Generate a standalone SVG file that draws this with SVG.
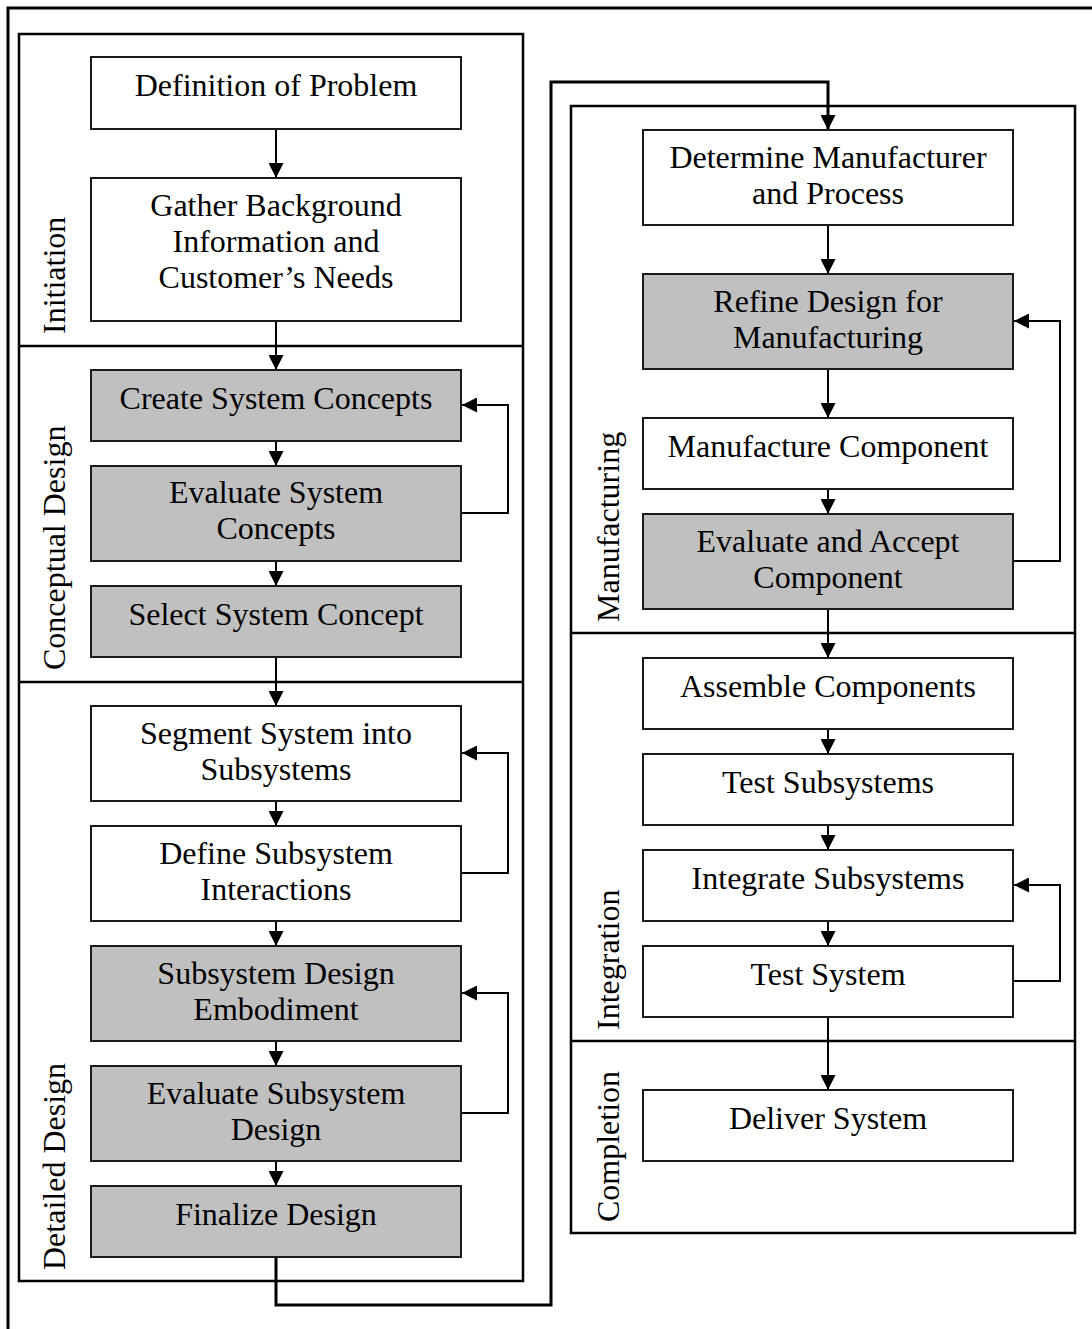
<svg xmlns="http://www.w3.org/2000/svg" width="1092" height="1329" viewBox="0 0 1092 1329">
<style>
  .bg { fill: #ffffff; }
  .frame { fill: none; stroke: #000; stroke-width: 3; }
  .sec { fill: none; stroke: #000; stroke-width: 2.5; }
  .div { stroke: #000; stroke-width: 2.5; }
  .box { fill: #ffffff; stroke: #1a1a1a; stroke-width: 2; }
  .grey { fill: #c0c0c0; stroke: #1a1a1a; stroke-width: 2; }
  .t { font-family: "Liberation Serif", "Times New Roman", serif; font-size: 32px; fill: #000; text-anchor: middle; }
  .lbl { font-family: "Liberation Serif", "Times New Roman", serif; font-size: 32px; fill: #000; text-anchor: start; }
  .con { fill: none; stroke: #000; stroke-width: 2; }
  .conb { fill: none; stroke: #000; stroke-width: 3; }
</style>
<defs>
  <marker id="arr" markerUnits="userSpaceOnUse" markerWidth="15" markerHeight="15" refX="15" refY="7.5" orient="auto">
    <path d="M0,0 L15,7.5 L0,15 z" fill="#000"/>
  </marker>
</defs>
<rect class="bg" x="0" y="0" width="1092" height="1329"/>
<rect class="frame" x="8" y="8" width="1100" height="1340"/>

<g id="phases">
  <rect class="sec" x="19" y="34" width="504" height="1247"/>
  <line class="div" x1="19" y1="346" x2="523" y2="346"/>
  <line class="div" x1="19" y1="682" x2="523" y2="682"/>
  <rect class="sec" x="571" y="106" width="504" height="1127"/>
  <line class="div" x1="571" y1="633" x2="1075" y2="633"/>
  <line class="div" x1="571" y1="1041" x2="1075" y2="1041"/>
  <text class="lbl" transform="translate(65,334) rotate(-90)">Initiation</text>
  <text class="lbl" transform="translate(65,670) rotate(-90)">Conceptual Design</text>
  <text class="lbl" transform="translate(65,1270) rotate(-90)">Detailed Design</text>
  <text class="lbl" transform="translate(619,622) rotate(-90)">Manufacturing</text>
  <text class="lbl" transform="translate(619,1030) rotate(-90)">Integration</text>
  <text class="lbl" transform="translate(619,1222) rotate(-90)">Completion</text>
</g>

<g id="connectors">
  <line class="con" x1="276" y1="129" x2="276" y2="178" marker-end="url(#arr)"/>
  <line class="con" x1="276" y1="321" x2="276" y2="370" marker-end="url(#arr)"/>
  <line class="con" x1="276" y1="441" x2="276" y2="466" marker-end="url(#arr)"/>
  <line class="con" x1="276" y1="561" x2="276" y2="586" marker-end="url(#arr)"/>
  <line class="con" x1="276" y1="657" x2="276" y2="706" marker-end="url(#arr)"/>
  <line class="con" x1="276" y1="801" x2="276" y2="826" marker-end="url(#arr)"/>
  <line class="con" x1="276" y1="921" x2="276" y2="946" marker-end="url(#arr)"/>
  <line class="con" x1="276" y1="1041" x2="276" y2="1066" marker-end="url(#arr)"/>
  <line class="con" x1="276" y1="1161" x2="276" y2="1186" marker-end="url(#arr)"/>
  <line class="con" x1="828" y1="225" x2="828" y2="274" marker-end="url(#arr)"/>
  <line class="con" x1="828" y1="369" x2="828" y2="418" marker-end="url(#arr)"/>
  <line class="con" x1="828" y1="489" x2="828" y2="514" marker-end="url(#arr)"/>
  <line class="con" x1="828" y1="609" x2="828" y2="658" marker-end="url(#arr)"/>
  <line class="con" x1="828" y1="729" x2="828" y2="754" marker-end="url(#arr)"/>
  <line class="con" x1="828" y1="825" x2="828" y2="850" marker-end="url(#arr)"/>
  <line class="con" x1="828" y1="921" x2="828" y2="946" marker-end="url(#arr)"/>
  <line class="con" x1="828" y1="1017" x2="828" y2="1090" marker-end="url(#arr)"/>
  <polyline class="con" points="461,513 508,513 508,405 462,405" marker-end="url(#arr)"/>
  <polyline class="con" points="461,873 508,873 508,753 462,753" marker-end="url(#arr)"/>
  <polyline class="con" points="461,1113 508,1113 508,993 462,993" marker-end="url(#arr)"/>
  <polyline class="con" points="1013,561 1060,561 1060,321 1014,321" marker-end="url(#arr)"/>
  <polyline class="con" points="1013,981 1060,981 1060,885 1014,885" marker-end="url(#arr)"/>
  <polyline class="conb" points="276,1257 276,1305 551,1305 551,82 828,82 828,130" marker-end="url(#arr)"/>
</g>

<g id="n-definition"><rect class="box" x="91" y="57" width="370" height="72"/><text class="t" x="276" y="96">Definition of Problem</text></g>
<g id="n-gather"><rect class="box" x="91" y="178" width="370" height="143"/><text class="t" x="276" y="216">Gather Background</text><text class="t" x="276" y="252">Information and</text><text class="t" x="276" y="288">Customer’s Needs</text></g>
<g id="n-create"><rect class="grey" x="91" y="370" width="370" height="71"/><text class="t" x="276" y="409">Create System Concepts</text></g>
<g id="n-evalsys"><rect class="grey" x="91" y="466" width="370" height="95"/><text class="t" x="276" y="503">Evaluate System</text><text class="t" x="276" y="539">Concepts</text></g>
<g id="n-select"><rect class="grey" x="91" y="586" width="370" height="71"/><text class="t" x="276" y="625">Select System Concept</text></g>
<g id="n-segment"><rect class="box" x="91" y="706" width="370" height="95"/><text class="t" x="276" y="744">Segment System into</text><text class="t" x="276" y="780">Subsystems</text></g>
<g id="n-define"><rect class="box" x="91" y="826" width="370" height="95"/><text class="t" x="276" y="864">Define Subsystem</text><text class="t" x="276" y="900">Interactions</text></g>
<g id="n-embodiment"><rect class="grey" x="91" y="946" width="370" height="95"/><text class="t" x="276" y="984">Subsystem Design</text><text class="t" x="276" y="1020">Embodiment</text></g>
<g id="n-evalsub"><rect class="grey" x="91" y="1066" width="370" height="95"/><text class="t" x="276" y="1104">Evaluate Subsystem</text><text class="t" x="276" y="1140">Design</text></g>
<g id="n-finalize"><rect class="grey" x="91" y="1186" width="370" height="71"/><text class="t" x="276" y="1225">Finalize Design</text></g>

<g id="n-determine"><rect class="box" x="643" y="130" width="370" height="95"/><text class="t" x="828" y="168">Determine Manufacturer</text><text class="t" x="828" y="204">and Process</text></g>
<g id="n-refine"><rect class="grey" x="643" y="274" width="370" height="95"/><text class="t" x="828" y="312">Refine Design for</text><text class="t" x="828" y="348">Manufacturing</text></g>
<g id="n-manufacture"><rect class="box" x="643" y="418" width="370" height="71"/><text class="t" x="828" y="457">Manufacture Component</text></g>
<g id="n-accept"><rect class="grey" x="643" y="514" width="370" height="95"/><text class="t" x="828" y="552">Evaluate and Accept</text><text class="t" x="828" y="588">Component</text></g>
<g id="n-assemble"><rect class="box" x="643" y="658" width="370" height="71"/><text class="t" x="828" y="697">Assemble Components</text></g>
<g id="n-testsub"><rect class="box" x="643" y="754" width="370" height="71"/><text class="t" x="828" y="793">Test Subsystems</text></g>
<g id="n-integrate"><rect class="box" x="643" y="850" width="370" height="71"/><text class="t" x="828" y="889">Integrate Subsystems</text></g>
<g id="n-testsys"><rect class="box" x="643" y="946" width="370" height="71"/><text class="t" x="828" y="985">Test System</text></g>
<g id="n-deliver"><rect class="box" x="643" y="1090" width="370" height="71"/><text class="t" x="828" y="1129">Deliver System</text></g>
</svg>
